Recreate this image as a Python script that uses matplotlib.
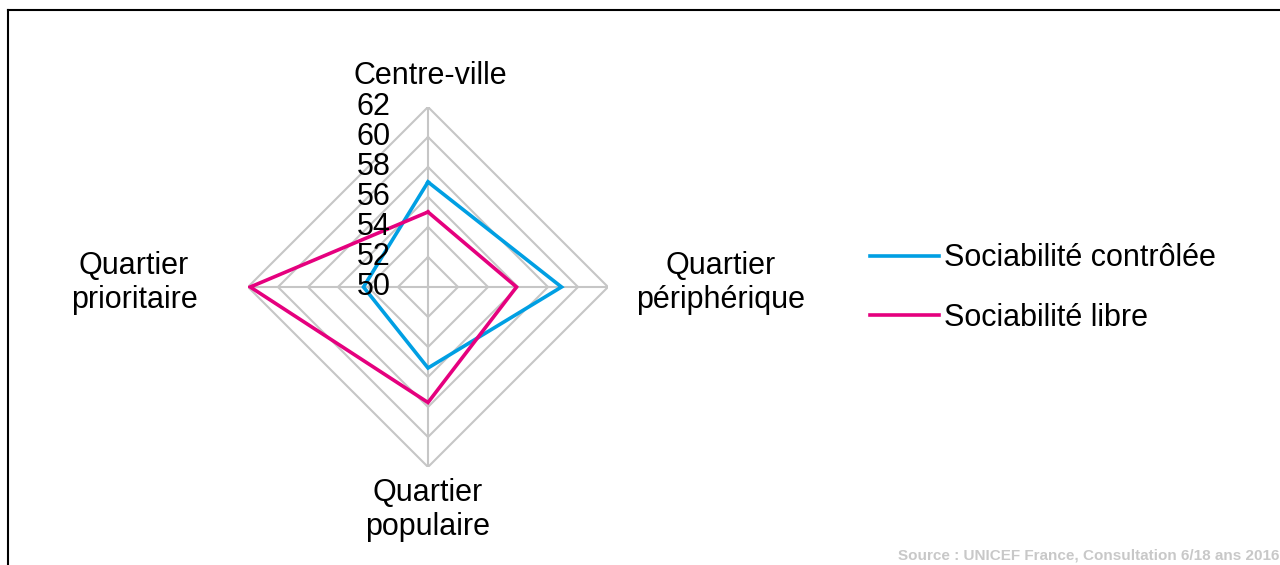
import numpy as np
import matplotlib.pyplot as plt
from matplotlib.lines import Line2D

plt.rcParams['font.family'] = ['Liberation Sans', 'DejaVu Sans']

# data
categories = ['Centre-ville', 'Quartier\npériphérique', 'Quartier\npopulaire', 'Quartier\nprioritaire']
controlee = [57.0, 58.9, 55.4, 54.3]
libre = [55.0, 55.9, 57.7, 61.85]
series_names = ['Sociabilité contrôlée', 'Sociabilité libre']
rings = [50, 52, 54, 56, 58, 60, 62]
source = 'Source : UNICEF France, Consultation 6/18 ans 2016'

colors = ['#009fe3', '#e5007e']
grid_color = '#c6c6c6'

W, H = 1280, 565
fig = plt.figure(figsize=(W / 100, H / 100), dpi=100)

cx, cy, R = 428, 287, 180
ax = fig.add_axes([(cx - R) / W, (H - cy - R) / H, 2 * R / W, 2 * R / H], projection='polar')
ax.set_theta_offset(np.pi / 2)
ax.set_theta_direction(-1)
ax.set_ylim(rings[0], rings[-1])
ax.grid(False)
ax.spines['polar'].set_visible(False)
ax.set_xticks([])
ax.set_yticks([])
ax.patch.set_alpha(0)

n = len(categories)
theta = np.linspace(0, 2 * np.pi, n, endpoint=False)
theta_c = np.append(theta, theta[0])

# polygon grid
for r in rings[1:]:
    ax.plot(theta_c, [r] * (n + 1), color=grid_color, lw=1.5, zorder=1)
for t in theta:
    ax.plot([t, t], [rings[0], rings[-1]], color=grid_color, lw=1.5, zorder=1)

# series
for vals, col in zip([controlee, libre], colors):
    v = np.append(vals, vals[0])
    ax.plot(theta_c, v, color=col, lw=2.6, zorder=3, solid_joinstyle='miter')

# ring labels (left of the top axis)
for r in rings:
    ax.annotate(str(r), xy=(0, r), xytext=(-27, 0), textcoords='offset points',
                ha='right', va='center', fontsize=22, color='black', zorder=4,
                annotation_clip=False)

# category labels
label_pos = [(430, 76), (721, 283), (428, 510), (134, 283)]
for lab, (x, y) in zip(categories, label_pos):
    fig.text(x / W, 1 - y / H, lab, ha='center', va='center', fontsize=22,
             linespacing=1.2)

# legend
handles = [Line2D([0], [0], color=c, lw=2.6) for c in colors]
fig.legend(handles, series_names, loc='center left', bbox_to_anchor=(855 / W, 1 - 288 / H),
           frameon=False, fontsize=22, handlelength=2.25, handletextpad=0.15,
           labelspacing=0.95, borderpad=0)

# source
fig.text(1279 / W, 1 - 556 / H, source, ha='right', va='center', fontsize=11,
         color='#c8c8c8', fontweight='bold')

# frame
fig.add_artist(Line2D([8 / W, 1], [1 - 10 / H] * 2, color='black', lw=1.5))
fig.add_artist(Line2D([8 / W] * 2, [0, 1 - 10 / H], color='black', lw=1.5))

fig.savefig('out.png', dpi=100)
